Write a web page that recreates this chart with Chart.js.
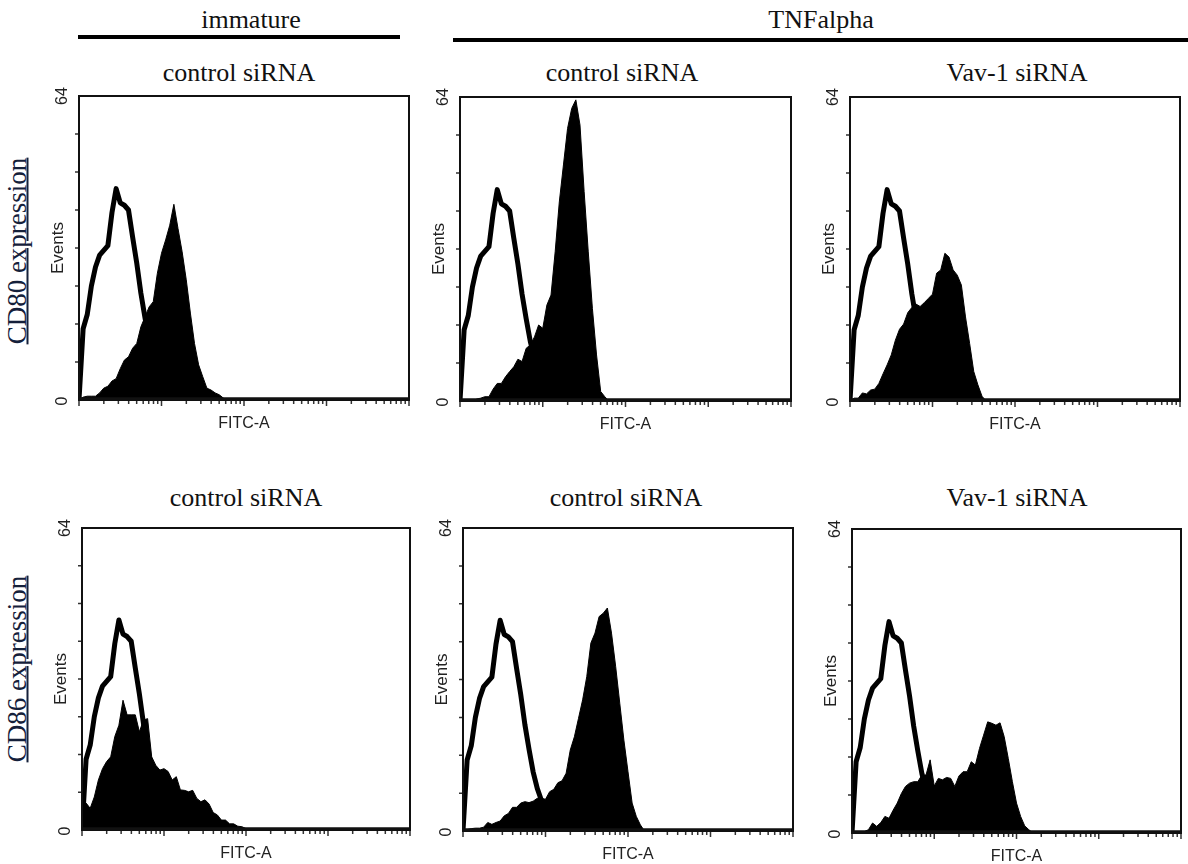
<!DOCTYPE html>
<html>
<head>
<meta charset="utf-8">
<title>CD80 / CD86 expression</title>
<script src="https://cdn.jsdelivr.net/npm/chart.js@4.4.1/dist/chart.umd.min.js"></script>
<style>
  html, body { margin: 0; padding: 0; background: #fff; }
  #page { position: relative; width: 1188px; height: 864px; overflow: hidden; background: #fff; }
  .serif { position: absolute; font-family: "Liberation Serif", serif; font-size: 26px; line-height: 26px; color: #111; white-space: nowrap; transform: translateX(-50%); }
  .bar { position: absolute; height: 4px; background: #000; }
  .rowlab { position: absolute; font-family: "Liberation Serif", serif; font-size: 27px; line-height: 27px; color: #15203a; white-space: nowrap; text-decoration: underline; text-decoration-thickness: 1.5px; transform: translate(-50%, -50%) rotate(-90deg); }
  canvas { position: absolute; }
</style>
</head>
<body>
<div id="page">
  <div class="serif" style="left:251px; top:7px;">immature</div>
  <div class="bar" style="left:78px; top:35px; width:322px;"></div>
  <div class="serif" style="left:821px; top:7px;">TNFalpha</div>
  <div class="bar" style="left:453px; top:38px; width:735px;"></div>
  <div class="rowlab" style="left:17px; top:251px;">CD80 expression</div>
  <div class="rowlab" style="left:17px; top:669px;">CD86 expression</div>
</div>
<script>
(function () {
  // histogram channels: 0.05 decade each, 4 decades on the FITC-A axis
  var BIN_STEP = 0.05;
  var X_DECADES = 4;
  var Y_MAX = 64;
  var Y_TICKS = [8, 16, 24, 32, 40, 48, 56];
  var MINOR_MULT = [2, 3, 4, 5, 6, 7, 8, 9];

  // isotype control (open, thick outline) - same in every panel
  var ISOTYPE = [0, 15, 18, 24, 28, 30.5, 31.5, 32.5, 39.5, 44.5, 41.5, 41, 40, 34.3, 28.8, 22.5,
    17.3, 12.5, 9, 6.5, 4.5, 3, 2, 1.2, 0.5, 0];

  // stained samples (filled)
  var CD80_IMMATURE = [0, 0.6, 0.8, 0.8, 0.8, 1.5, 2.5, 2.9, 4.0, 4.5, 6.6, 8.4, 9.1, 10.9, 11.9, 15.4,
    17.5, 19.6, 20.7, 26.7, 30.9, 33.7, 36.8, 41.2, 36.1, 31.2, 25.3, 18.3, 11.9, 7.4, 4.9, 2.5,
    2.1, 1.5, 1.1, 0.4, 0];
  var CD80_TNF_CTRL = [0, 0, 0, 0, 0.4, 0.6, 0.9, 0.9, 2.5, 3.7, 3.7, 5.1, 6.2, 7.2, 8.8, 8.3,
    11.1, 11.8, 13.5, 16.0, 15.3, 20.2, 22.3, 31.4, 41.9, 49.7, 57.4, 61.6, 63.4, 58.1, 44.1, 31.4,
    19.5, 9.7, 2.0, 0.9, 0];
  var CD80_TNF_VAV = [0, 0.6, 0.6, 1.7, 1.5, 2.3, 2.5, 3.7, 5.7, 7.6, 9.7, 12.8, 15.1, 16.2, 18.6, 19.7,
    20.4, 19.9, 20.7, 21.6, 22.5, 26.9, 27.6, 31.1, 30.3, 27.6, 26.5, 24.4, 17.7, 12.1, 6.2, 3.4,
    1.0, 0];
  var CD86_IMMATURE = [4.6, 5.7, 4.6, 7.0, 10.6, 13.0, 14.5, 15.5, 19.8, 22.2, 27.5, 24.4, 24.4, 24.4, 20.8, 23.3,
    23.6, 15.5, 13.7, 12.7, 13.0, 12.4, 10.6, 11.3, 8.5, 8.4, 8.1, 8.4, 6.7, 6.0, 6.4, 5.5,
    3.7, 3.2, 2.1, 2.1, 1.3, 1.3, 0.8, 0.7, 0.3, 0];
  var CD86_TNF_CTRL = [0, 0.3, 0.5, 0.6, 0.6, 0.8, 1.8, 1.4, 1.8, 2.1, 3.2, 3.7, 5.0, 5.0, 5.9, 6.2,
    6.0, 6.3, 6.9, 6.9, 6.7, 8.3, 8.8, 10.2, 10.6, 12.2, 17.1, 19.9, 23.8, 27.7, 32.6, 39.7,
    41.8, 45.3, 46.0, 47.1, 41.8, 34.8, 27.0, 19.2, 12.5, 5.9, 3.1, 1.3, 0];
  var CD86_TNF_VAV = [0, 0.3, 0.3, 0.3, 0.7, 2.1, 1.4, 2.2, 3.5, 3.1, 4.8, 6.3, 8.3, 9.8, 10.5, 10.8,
    10.8, 12.2, 12.2, 15.4, 9.9, 11.5, 11.2, 11.7, 11.5, 9.8, 12.0, 12.9, 12.9, 15.0, 14.3, 17.8,
    20.6, 23.4, 23.1, 22.7, 23.2, 20.3, 15.7, 10.8, 6.3, 3.5, 1.5, 0.7, 0];

  // page layout: plot area box [left, top, right, bottom] and title placement
  var PANELS = [
    { title: 'control siRNA', values: CD80_IMMATURE, box: [79, 96, 409, 400], tx: 239, ty: 60 },
    { title: 'control siRNA', values: CD80_TNF_CTRL, box: [460, 97, 791, 401], tx: 622, ty: 60 },
    { title: 'Vav-1 siRNA', values: CD80_TNF_VAV, box: [850, 97, 1180, 401], tx: 1017, ty: 60 },
    { title: 'control siRNA', values: CD86_IMMATURE, box: [82, 528, 410, 830], tx: 246, ty: 485 },
    { title: 'control siRNA', values: CD86_TNF_CTRL, box: [463, 528, 793, 831], tx: 626, ty: 485 },
    { title: 'Vav-1 siRNA', values: CD86_TNF_VAV, box: [852, 529, 1181, 833], tx: 1017, ty: 485 }
  ];

  var PAD = { left: 40, right: 6, top: 12, bottom: 40 };
  var AXIS_FONT = '16px "Liberation Sans", Arial, sans-serif';

  function toPoints(values) {
    return values.map(function (v, i) { return { x: i * BIN_STEP, y: v }; });
  }

  function rotatedText(ctx, text, x, y) {
    ctx.save();
    ctx.translate(x, y);
    ctx.rotate(-Math.PI / 2);
    ctx.fillText(text, 0, 0);
    ctx.restore();
  }

  // frame, log-decade ticks and axis texts, placed through the chart scales
  var facsAxes = {
    id: 'facsAxes',
    afterDatasetsDraw: function (chart) {
      var ctx = chart.ctx;
      var a = chart.chartArea;
      var xs = chart.scales.x;
      var ys = chart.scales.y;
      ctx.save();

      ctx.strokeStyle = '#111';
      ctx.lineWidth = 2;
      ctx.strokeRect(a.left, a.top, a.right - a.left, a.bottom - a.top);
      ctx.lineWidth = 3.5;
      ctx.beginPath();
      ctx.moveTo(a.left, ys.getPixelForValue(0) - 1);
      ctx.lineTo(a.right, ys.getPixelForValue(0) - 1);
      ctx.stroke();

      ctx.strokeStyle = '#333';
      ctx.lineWidth = 1.5;
      ctx.beginPath();
      for (var d = 0; d <= X_DECADES; d++) {
        var px = xs.getPixelForValue(d);
        ctx.moveTo(px, a.bottom + 1);
        ctx.lineTo(px, a.bottom + 6);
        if (d === X_DECADES) break;
        MINOR_MULT.forEach(function (m) {
          var mx = xs.getPixelForValue(d + Math.log10(m));
          ctx.moveTo(mx, a.bottom + 1);
          ctx.lineTo(mx, a.bottom + 4);
        });
      }
      Y_TICKS.forEach(function (t) {
        var py = ys.getPixelForValue(t);
        ctx.moveTo(a.left - 1, py);
        ctx.lineTo(a.left - 4, py);
      });
      ctx.stroke();

      ctx.fillStyle = '#222';
      ctx.font = AXIS_FONT;
      ctx.textAlign = 'center';
      ctx.textBaseline = 'middle';
      rotatedText(ctx, String(Y_MAX), a.left - 16, ys.getPixelForValue(Y_MAX));
      rotatedText(ctx, '0', a.left - 16, ys.getPixelForValue(0) + 1);
      ctx.font = '17px "Liberation Sans", Arial, sans-serif';
      rotatedText(ctx, 'Events', a.left - 21, ys.getPixelForValue(Y_MAX / 2));
      ctx.font = AXIS_FONT;
      ctx.fillText('FITC-A', xs.getPixelForValue(X_DECADES / 2), a.bottom + 24);
      ctx.restore();
    }
  };

  var page = document.getElementById('page');

  PANELS.forEach(function (p) {
    var b = p.box;
    var title = document.createElement('div');
    title.className = 'serif';
    title.style.left = p.tx + 'px';
    title.style.top = p.ty + 'px';
    title.textContent = p.title;
    page.appendChild(title);

    var canvas = document.createElement('canvas');
    canvas.width = (b[2] - b[0]) + PAD.left + PAD.right;
    canvas.height = (b[3] - b[1]) + PAD.top + PAD.bottom;
    canvas.style.left = (b[0] - PAD.left) + 'px';
    canvas.style.top = (b[1] - PAD.top) + 'px';
    canvas.style.width = canvas.width + 'px';
    canvas.style.height = canvas.height + 'px';
    page.appendChild(canvas);

    new Chart(canvas, {
      type: 'line',
      data: {
        datasets: [{
          label: 'stained',
          data: toPoints(p.values),
          fill: 'origin',
          backgroundColor: '#000',
          borderColor: '#000',
          borderWidth: 1,
          pointRadius: 0,
          tension: 0,
          order: 1
        }, {
          label: 'isotype',
          data: toPoints(ISOTYPE),
          fill: false,
          borderColor: '#000',
          borderWidth: 5,
          borderJoinStyle: 'round',
          pointRadius: 0,
          tension: 0,
          order: 2
        }]
      },
      options: {
        responsive: false,
        animation: false,
        devicePixelRatio: 1,
        events: [],
        layout: { padding: PAD },
        plugins: { legend: { display: false }, tooltip: { enabled: false } },
        scales: {
          x: { type: 'linear', min: 0, max: X_DECADES, display: false },
          y: { type: 'linear', min: 0, max: Y_MAX, display: false }
        }
      },
      plugins: [facsAxes]
    });
  });
})();
</script>
</body>
</html>
